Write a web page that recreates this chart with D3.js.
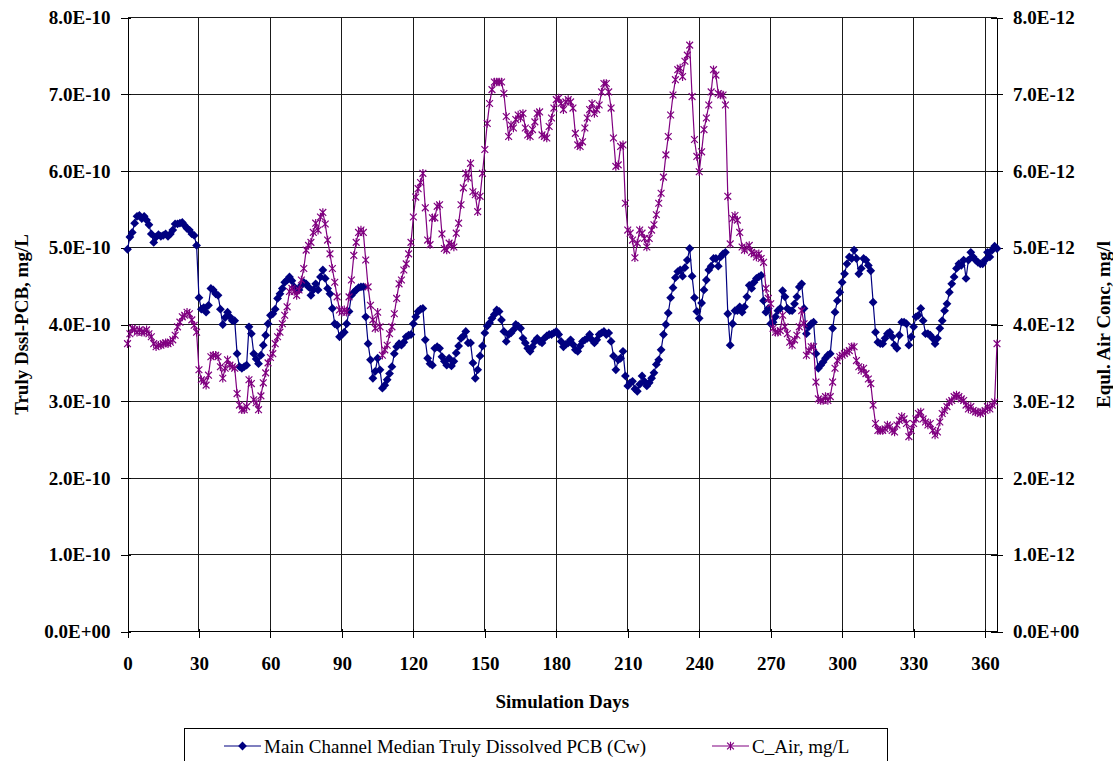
<!DOCTYPE html>
<html>
<head>
<meta charset="utf-8">
<script src="https://cdn.jsdelivr.net/npm/d3@7/dist/d3.min.js"></script>
<style>
html, body { margin: 0; padding: 0; background: #fff; }
svg { display: block; font-family: "Liberation Serif", "Times New Roman", serif; }
.tick text { font-family: "Liberation Serif", "Times New Roman", serif; font-size: 19px; font-weight: bold; fill: #000; }
.domain { stroke: #000; }
.tick line { stroke: #000; }
</style>
</head>
<body>
<div id="chart"></div>
<script>
/* === PCB water vs air concentration, daily series (D3 v7) === */

var DAY_TICKS = [0, 30, 60, 90, 120, 150, 180, 210, 240, 270, 300, 330, 360];
var LEFT_TICKS = [0, 1e-10, 2e-10, 3e-10, 4e-10, 5e-10, 6e-10, 7e-10, 8e-10];
var LEFT_LABELS = ['0.0E+00', '1.0E-10', '2.0E-10', '3.0E-10', '4.0E-10', '5.0E-10', '6.0E-10', '7.0E-10', '8.0E-10'];
var RIGHT_TICKS = [0, 1e-12, 2e-12, 3e-12, 4e-12, 5e-12, 6e-12, 7e-12, 8e-12];
var RIGHT_LABELS = ['0.0E+00', '1.0E-12', '2.0E-12', '3.0E-12', '4.0E-12', '5.0E-12', '6.0E-12', '7.0E-12', '8.0E-12'];

var SERIES_NAMES = ['Main Channel Median Truly Dissolved PCB (Cw)', 'C_Air, mg/L'];

// Cw, days 0..365, in units of 1E-10 mg/L
var CW_UNIT = 1e-10;
var CW = [
    4.98, 5.14, 5.20, 5.32, 5.41, 5.42, 5.38, 5.41, 5.36, 5.30,
    5.18, 5.07, 5.14, 5.17, 5.15, 5.16, 5.18, 5.15, 5.18, 5.23,
    5.31, 5.31, 5.32, 5.33, 5.29, 5.25, 5.23, 5.18, 5.16, 5.03,
    4.35, 4.20, 4.22, 4.16, 4.25, 4.47, 4.45, 4.40, 4.38, 4.20,
    4.00, 4.09, 4.16, 4.10, 4.05, 4.05, 3.62, 3.45, 3.43, 3.45,
    3.47, 3.97, 3.88, 3.62, 3.55, 3.49, 3.60, 3.73, 3.86, 4.01,
    4.12, 4.14, 4.20, 4.34, 4.40, 4.47, 4.55, 4.58, 4.62, 4.57,
    4.49, 4.45, 4.45, 4.51, 4.55, 4.53, 4.49, 4.38, 4.45, 4.53,
    4.45, 4.62, 4.71, 4.60, 4.47, 4.40, 4.21, 4.01, 3.99, 3.84,
    3.87, 3.90, 4.01, 4.17, 4.38, 4.42, 4.45, 4.48, 4.49, 4.49,
    4.10, 3.75, 3.54, 3.30, 3.39, 3.56, 3.41, 3.17, 3.21, 3.28,
    3.36, 3.45, 3.62, 3.71, 3.75, 3.73, 3.77, 3.84, 3.86, 3.87,
    4.01, 4.10, 4.17, 4.20, 4.21, 3.80, 3.56, 3.49, 3.47, 3.69,
    3.71, 3.69, 3.58, 3.52, 3.47, 3.56, 3.46, 3.52, 3.63, 3.72,
    3.82, 3.85, 3.91, 3.76, 3.76, 3.50, 3.30, 3.41, 3.59, 3.72,
    3.89, 3.98, 4.02, 4.08, 4.13, 4.19, 4.17, 4.06, 3.91, 3.78,
    3.87, 3.89, 3.93, 4.00, 3.98, 3.95, 3.82, 3.76, 3.69, 3.65,
    3.71, 3.78, 3.82, 3.78, 3.76, 3.82, 3.85, 3.87, 3.87, 3.89,
    3.91, 3.87, 3.78, 3.71, 3.74, 3.76, 3.80, 3.74, 3.67, 3.65,
    3.72, 3.78, 3.80, 3.82, 3.87, 3.80, 3.76, 3.80, 3.87, 3.89,
    3.91, 3.87, 3.89, 3.78, 3.59, 3.41, 3.54, 3.56, 3.65, 3.33,
    3.20, 3.24, 3.26, 3.16, 3.13, 3.22, 3.33, 3.26, 3.20, 3.24,
    3.30, 3.37, 3.48, 3.54, 3.67, 3.87, 4.00, 4.15, 4.35, 4.48,
    4.61, 4.69, 4.71, 4.63, 4.74, 4.84, 4.99, 4.63, 4.35, 4.17,
    4.08, 4.28, 4.45, 4.58, 4.71, 4.76, 4.86, 4.86, 4.76, 4.88,
    4.92, 4.94, 4.14, 3.73, 4.01, 4.18, 4.18, 4.23, 4.16, 4.23,
    4.36, 4.51, 4.47, 4.55, 4.60, 4.62, 4.64, 4.31, 4.16, 4.21,
    4.01, 4.03, 4.10, 4.18, 4.21, 4.44, 4.36, 4.21, 4.18, 4.18,
    4.27, 4.36, 4.49, 4.53, 4.21, 3.88, 3.97, 4.01, 4.03, 3.62,
    3.43, 3.47, 3.51, 3.56, 3.60, 3.62, 3.95, 4.16, 4.31, 4.42,
    4.55, 4.66, 4.79, 4.88, 4.86, 4.97, 4.86, 4.66, 4.73, 4.86,
    4.84, 4.77, 4.70, 4.29, 3.90, 3.77, 3.75, 3.75, 3.82, 3.88,
    3.90, 3.84, 3.73, 3.69, 3.86, 4.03, 4.03, 4.01, 3.73, 3.84,
    3.97, 4.10, 4.12, 4.21, 4.05, 3.88, 3.88, 3.86, 3.82, 3.75,
    3.82, 3.95, 4.05, 4.18, 4.27, 4.42, 4.53, 4.62, 4.73, 4.79,
    4.77, 4.84, 4.60, 4.84, 4.94, 4.88, 4.84, 4.81, 4.79, 4.79,
    4.84, 4.94, 4.88, 4.97, 5.02, 4.99
];

// C_Air, days 0..365, in units of 1E-12 mg/L
var CAIR_UNIT = 1e-12;
var CAIR = [
    3.75, 3.88, 3.95, 3.93, 3.90, 3.93, 3.90, 3.90, 3.93, 3.88,
    3.84, 3.75, 3.71, 3.73, 3.73, 3.75, 3.76, 3.75, 3.77, 3.80,
    3.86, 3.97, 4.03, 4.10, 4.12, 4.16, 4.14, 4.06, 3.99, 3.90,
    3.41, 3.28, 3.26, 3.21, 3.34, 3.58, 3.60, 3.60, 3.58, 3.45,
    3.30, 3.43, 3.54, 3.47, 3.45, 3.43, 3.10, 2.95, 2.89, 2.89,
    2.93, 3.28, 3.23, 3.02, 2.98, 2.89, 3.07, 3.24, 3.37, 3.50,
    3.57, 3.62, 3.75, 3.84, 3.90, 4.01, 4.12, 4.23, 4.43, 4.47,
    4.43, 4.38, 4.45, 4.58, 4.73, 4.97, 5.03, 5.07, 5.20, 5.32,
    5.23, 5.40, 5.46, 5.31, 5.10, 4.92, 4.73, 4.55, 4.36, 4.19,
    4.16, 4.19, 4.16, 4.36, 4.58, 4.90, 5.07, 5.20, 5.23, 5.20,
    4.84, 4.49, 4.25, 4.06, 3.95, 4.16, 3.97, 3.60, 3.67, 3.73,
    3.88, 3.97, 4.14, 4.34, 4.53, 4.58, 4.71, 4.79, 4.92, 5.07,
    5.40, 5.66, 5.77, 5.85, 5.97, 5.52, 5.10, 5.04, 5.39, 5.39,
    5.54, 5.56, 5.18, 4.99, 4.97, 5.06, 5.04, 5.01, 5.19, 5.32,
    5.56, 5.78, 5.97, 5.91, 6.10, 5.73, 5.69, 5.47, 5.67, 5.97,
    6.28, 6.62, 6.88, 7.06, 7.16, 7.16, 7.16, 7.16, 7.01, 6.71,
    6.45, 6.60, 6.56, 6.67, 6.73, 6.69, 6.75, 6.56, 6.47, 6.45,
    6.54, 6.64, 6.75, 6.77, 6.47, 6.45, 6.43, 6.58, 6.69, 6.82,
    6.93, 6.95, 6.88, 6.80, 6.90, 6.93, 6.90, 6.82, 6.49, 6.34,
    6.32, 6.38, 6.56, 6.69, 6.80, 6.88, 6.75, 6.80, 6.86, 7.03,
    7.14, 7.14, 7.03, 6.82, 6.43, 6.06, 6.08, 6.32, 6.34, 5.58,
    5.23, 5.19, 5.10, 4.87, 5.06, 5.23, 5.19, 5.12, 5.01, 5.12,
    5.23, 5.30, 5.43, 5.58, 5.71, 5.92, 6.21, 6.45, 6.73, 6.99,
    7.19, 7.32, 7.34, 7.23, 7.43, 7.51, 7.64, 6.97, 6.41, 6.19,
    5.99, 6.25, 6.54, 6.69, 6.86, 7.03, 7.32, 7.25, 7.01, 6.99,
    6.99, 6.86, 5.67, 5.05, 5.38, 5.42, 5.36, 5.20, 5.01, 4.97,
    5.00, 5.03, 4.94, 4.92, 4.88, 4.92, 4.86, 4.81, 4.47, 4.34,
    4.27, 3.95, 3.90, 3.90, 3.92, 4.12, 3.97, 3.88, 3.77, 3.73,
    3.80, 3.86, 3.97, 4.18, 4.01, 3.60, 3.66, 3.71, 3.71, 3.25,
    3.03, 3.01, 3.01, 3.06, 3.01, 3.06, 3.25, 3.43, 3.53, 3.58,
    3.60, 3.62, 3.64, 3.66, 3.71, 3.71, 3.53, 3.45, 3.40, 3.43,
    3.36, 3.29, 3.23, 2.95, 2.71, 2.62, 2.62, 2.62, 2.64, 2.69,
    2.67, 2.62, 2.60, 2.69, 2.75, 2.80, 2.77, 2.71, 2.54, 2.62,
    2.71, 2.77, 2.84, 2.86, 2.77, 2.73, 2.69, 2.71, 2.62, 2.56,
    2.60, 2.73, 2.84, 2.88, 2.93, 2.99, 3.01, 3.06, 3.08, 3.06,
    3.03, 3.01, 2.95, 2.90, 2.93, 2.88, 2.86, 2.86, 2.84, 2.86,
    2.88, 2.93, 2.90, 2.95, 2.99, 3.75
];

var BLUE = '#000080';
var MAGENTA = '#800080';

var width = 1113, height = 761;
var margin = { left: 127.5, right: 116, top: 17.5, bottom: 129.5 };

var svg = d3.select('#chart').append('svg')
    .attr('width', width)
    .attr('height', height);

var x = d3.scaleLinear().domain([0, 365]).range([margin.left, width - margin.right]);
var yL = d3.scaleLinear().domain([0, 8e-10]).range([height - margin.bottom, margin.top]);
var yR = d3.scaleLinear().domain([0, 8e-12]).range([height - margin.bottom, margin.top]);

var cwData = CW.map(function(v, i) { return { day: i, value: v * CW_UNIT }; });
var airData = CAIR.map(function(v, i) { return { day: i, value: v * CAIR_UNIT }; });

// Gridlines
var grid = svg.append('g').attr('shape-rendering', 'crispEdges');
grid.selectAll('line.h')
    .data(LEFT_TICKS.slice(1))
    .join('line')
    .attr('x1', x(0)).attr('x2', x(365))
    .attr('y1', function(d) { return yL(d); })
    .attr('y2', function(d) { return yL(d); })
    .attr('stroke', '#1a1a1a');
grid.selectAll('line.v')
    .data(DAY_TICKS.slice(1))
    .join('line')
    .attr('x1', function(d) { return x(d); })
    .attr('x2', function(d) { return x(d); })
    .attr('y1', yL(0)).attr('y2', yL(8e-10))
    .attr('stroke', '#1a1a1a');

// Axes
var fmtLeft = function(d, i) { return LEFT_LABELS[i]; };
var fmtRight = function(d, i) { return RIGHT_LABELS[i]; };

var leftAxis = svg.append('g')
    .attr('transform', 'translate(' + x(0) + ',0)')
    .attr('shape-rendering', 'crispEdges')
    .call(d3.axisLeft(yL).tickValues(LEFT_TICKS).tickFormat(fmtLeft).tickSize(7).tickSizeOuter(0).tickPadding(10));
leftAxis.selectAll('.tick line').attr('x1', 3);

var rightAxis = svg.append('g')
    .attr('transform', 'translate(' + x(365) + ',0)')
    .attr('shape-rendering', 'crispEdges')
    .call(d3.axisRight(yR).tickValues(RIGHT_TICKS).tickFormat(fmtRight).tickSize(6).tickSizeOuter(0).tickPadding(10));
rightAxis.selectAll('.tick line').attr('x1', -6);

var bottomAxis = svg.append('g')
    .attr('transform', 'translate(0,' + yL(0) + ')')
    .attr('shape-rendering', 'crispEdges')
    .call(d3.axisBottom(x).tickValues(DAY_TICKS).tickFormat(d3.format('d')).tickSize(6).tickSizeOuter(0).tickPadding(19));
bottomAxis.selectAll('.tick line').attr('y1', -3);
bottomAxis.select('.domain').attr('d', 'M' + x(0) + ',0H' + x(365));

[leftAxis, rightAxis, bottomAxis].forEach(function(g) {
    g.attr('font-family', null).attr('font-size', null);
});

// Series
var lineL = d3.line().x(function(d) { return x(d.day); }).y(function(d) { return yL(d.value); });
var lineR = d3.line().x(function(d) { return x(d.day); }).y(function(d) { return yR(d.value); });

var DIAMOND = 'M0,-4.4L4.4,0L0,4.4L-4.4,0Z';
var STAR = 'M-3.4,-3.4L3.4,3.4M-3.4,3.4L3.4,-3.4M0,-4.3L0,4.3';

var cwG = svg.append('g');
cwG.append('path')
    .datum(cwData)
    .attr('d', lineL)
    .attr('fill', 'none')
    .attr('stroke', BLUE)
    .attr('stroke-width', 1.2);
cwG.selectAll('path.mk')
    .data(cwData)
    .join('path')
    .attr('class', 'mk')
    .attr('d', DIAMOND)
    .attr('transform', function(d) { return 'translate(' + x(d.day) + ',' + yL(d.value) + ')'; })
    .attr('fill', BLUE);

var airG = svg.append('g');
airG.append('path')
    .datum(airData)
    .attr('d', lineR)
    .attr('fill', 'none')
    .attr('stroke', MAGENTA)
    .attr('stroke-width', 1.2);
airG.selectAll('path.mk')
    .data(airData)
    .join('path')
    .attr('class', 'mk')
    .attr('d', STAR)
    .attr('transform', function(d) { return 'translate(' + x(d.day) + ',' + yR(d.value) + ')'; })
    .attr('fill', 'none')
    .attr('stroke', MAGENTA)
    .attr('stroke-width', 1.2);

// Axis titles
svg.append('text')
    .attr('transform', 'translate(21,' + ((yL(0) + yL(8e-10)) / 2) + ') rotate(-90)')
    .attr('text-anchor', 'middle')
    .attr('dy', '0.35em')
    .style('font-size', '19px')
    .style('font-weight', 'bold')
    .text('Truly Dssl-PCB, mg/L');

svg.append('text')
    .attr('transform', 'translate(1103,' + ((yL(0) + yL(8e-10)) / 2) + ') rotate(-90)')
    .attr('text-anchor', 'middle')
    .attr('dy', '0.35em')
    .style('font-size', '19px')
    .style('font-weight', 'bold')
    .text('Equl. Air Conc, mg/l');

svg.append('text')
    .attr('x', (x(0) + x(365)) / 2)
    .attr('y', 701)
    .attr('text-anchor', 'middle')
    .attr('dy', '0.35em')
    .style('font-size', '19px')
    .style('font-weight', 'bold')
    .text('Simulation Days');

// Legend
var legend = svg.append('g');
legend.append('rect')
    .attr('x', 184.5).attr('y', 728.5)
    .attr('width', 703).attr('height', 50)
    .attr('fill', '#fff')
    .attr('stroke', '#000')
    .attr('shape-rendering', 'crispEdges');

var legendItems = [
    { name: SERIES_NAMES[0], color: BLUE, mark: DIAMOND, x0: 224, filled: true },
    { name: SERIES_NAMES[1], color: MAGENTA, mark: STAR, x0: 712, filled: false }
];
var ly = 746;
legendItems.forEach(function(it) {
    legend.append('line')
        .attr('x1', it.x0).attr('x2', it.x0 + 37)
        .attr('y1', ly).attr('y2', ly)
        .attr('stroke', it.color)
        .attr('stroke-width', 1.2);
    legend.append('path')
        .attr('d', it.mark)
        .attr('transform', 'translate(' + (it.x0 + 18.5) + ',' + ly + ')')
        .attr('fill', it.filled ? it.color : 'none')
        .attr('stroke', it.filled ? 'none' : it.color)
        .attr('stroke-width', 1.2);
    legend.append('text')
        .attr('x', it.x0 + 40)
        .attr('y', ly)
        .attr('dy', '0.35em')
        .style('font-size', '19px')
        .text(it.name);
});
</script>
</body>
</html>
